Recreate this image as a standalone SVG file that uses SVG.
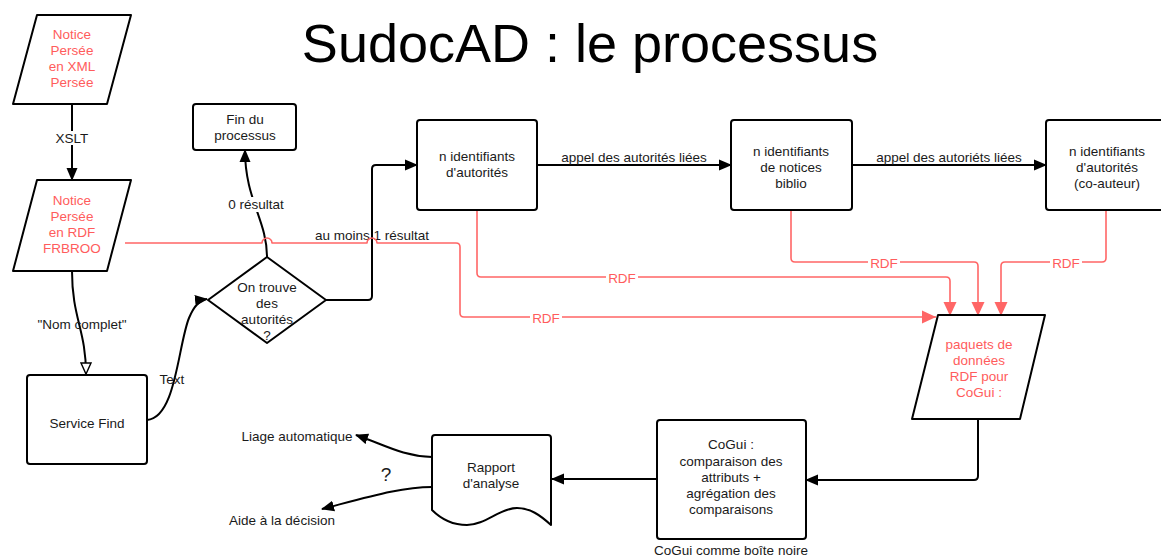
<svg xmlns="http://www.w3.org/2000/svg" width="1161" height="556" viewBox="0 0 1161 556">
<style>
text{font-family:"Liberation Sans",Arial,sans-serif;font-size:13.5px;fill:#1a1a1a;text-anchor:middle}
.red{fill:#ff5c5c}
.title{font-size:54px;fill:#000}
.shape{fill:#fff;stroke:#000;stroke-width:2;stroke-linejoin:round}
.blk{fill:none;stroke:#000;stroke-width:2}
.rl{fill:none;stroke:#ff6666;stroke-width:1.6;stroke-linejoin:round}
.lbl{fill:#fff}
</style>
<defs>
<marker id="ab" markerUnits="userSpaceOnUse" markerWidth="14" markerHeight="12" refX="12" refY="6" orient="auto"><path d="M0,0.5 L13,6 L0,11.5 Z" fill="#000"/></marker>
<marker id="ah" markerUnits="userSpaceOnUse" markerWidth="14" markerHeight="12" refX="12" refY="6" orient="auto"><path d="M1,1 L12,6 L1,11 Z" fill="#fff" stroke="#000" stroke-width="1.4"/></marker>
<marker id="ar" markerUnits="userSpaceOnUse" markerWidth="16" markerHeight="14" refX="14" refY="7" orient="auto"><path d="M0,0.5 L14,7 L0,13.5 Z" fill="#ff6666"/></marker>
</defs>
<rect width="1161" height="556" fill="#fff"/>
<text class="title" x="590" y="62">SudocAD : le processus</text>

<g id="connectors">
<line class="blk" x1="72" y1="104" x2="72" y2="180" marker-end="url(#ab)"/>
<rect class="lbl" x="52" y="131" width="40" height="14"/>
<text x="72" y="143">XSLT</text>
<path class="blk" d="M72,271 C72,318 86,330 86,374" marker-end="url(#ah)" stroke-width="1.6"/>
<text x="82" y="329">"Nom complet"</text>
<path class="blk" d="M147,420 C176,418 178,345 189,318 C194,306 199,300 207,299" marker-end="url(#ab)" stroke-width="1.6"/>
<text x="172" y="384">Text</text>
<path class="blk" d="M267,257 C267,220 245,200 245,150" marker-end="url(#ab)" stroke-width="1.6"/>
<rect class="lbl" x="226" y="197" width="60" height="15"/>
<text x="256" y="209">0 résultat</text>
<path class="blk" d="M326,300 H368 Q372,300 372,296 V169 Q372,165 376,165 H417" marker-end="url(#ab)"/>
<text x="372" y="240">au moins 1 résultat</text>
<line class="blk" x1="537" y1="165" x2="731" y2="165" marker-end="url(#ab)"/>
<text x="634" y="162">appel des autorités liées</text>
<line class="blk" x1="852" y1="165" x2="1046" y2="165" marker-end="url(#ab)"/>
<text x="949" y="162">appel des autoriéts liées</text>
<path class="blk" d="M978,419 V476 Q978,480 974,480 H806" marker-end="url(#ab)"/>
<line class="blk" x1="657" y1="479" x2="552" y2="479" marker-end="url(#ab)"/>
<path class="blk" d="M432,457 C402,456 385,445 356,435" marker-end="url(#ab)" stroke-width="1.6"/>
<path class="blk" d="M432,487 C402,487 372,496 322,509" marker-end="url(#ab)" stroke-width="1.6"/>
<text x="386" y="481" style="font-size:19px">?</text>

<path class="rl" d="M125,243 H262 A5,5 0 0 1 272,243 H367 A5,5 0 0 1 377,243 H456 Q460,243 460,247 V313 Q460,317 464,317 H936" marker-end="url(#ar)"/>
<rect class="lbl" x="530" y="311" width="32" height="14"/>
<text class="red" x="546" y="323">RDF</text>
<path class="rl" d="M477,210 V273 Q477,277 481,277 H946 Q950,277 950,281 V316" marker-end="url(#ar)"/>
<rect class="lbl" x="606" y="271" width="32" height="14"/>
<text class="red" x="622" y="283">RDF</text>
<path class="rl" d="M791,210 V258 Q791,262 795,262 H974 Q978,262 978,266 V316" marker-end="url(#ar)"/>
<rect class="lbl" x="868" y="256" width="32" height="14"/>
<text class="red" x="884" y="268">RDF</text>
<path class="rl" d="M1106,210 V258 Q1106,262 1102,262 H1005 Q1001,262 1001,266 V316" marker-end="url(#ar)"/>
<rect class="lbl" x="1050" y="256" width="32" height="14"/>
<text class="red" x="1066" y="268">RDF</text>
</g>

<g id="notice-xml">
<path class="shape" d="M37,15 H131 L107,104 H13 Z"/>
<text class="red" x="72" y="39">Notice</text>
<text class="red" x="72" y="55">Persée</text>
<text class="red" x="72" y="71">en XML</text>
<text class="red" x="72" y="87">Persée</text>
</g>
<g id="notice-rdf">
<path class="shape" d="M37,180 H131 L107,271 H13 Z"/>
<text class="red" x="72" y="205">Notice</text>
<text class="red" x="72" y="221">Persée</text>
<text class="red" x="72" y="237">en RDF</text>
<text class="red" x="72" y="253">FRBROO</text>
</g>
<g id="service-find">
<rect class="shape" x="27" y="375" width="120" height="89" rx="3"/>
<text x="87" y="428">Service Find</text>
</g>
<g id="decision">
<path class="shape" d="M208,300 L267,257 L326,300 L267,343 Z"/>
<text x="267" y="292">On trouve</text>
<text x="267" y="308">des</text>
<text x="267" y="324">autorités</text>
<text x="267" y="340">?</text>
</g>
<g id="fin">
<rect class="shape" x="193" y="104" width="103" height="46" rx="3"/>
<text x="245" y="124">Fin du</text>
<text x="245" y="140">processus</text>
</g>
<g id="id-autorites">
<rect class="shape" x="417" y="120" width="120" height="90" rx="3"/>
<text x="477" y="161">n identifiants</text>
<text x="477" y="177">d'autorités</text>
</g>
<g id="id-biblio">
<rect class="shape" x="731" y="120" width="121" height="90" rx="3"/>
<text x="791" y="156">n identifiants</text>
<text x="791" y="172">de notices</text>
<text x="791" y="188">biblio</text>
</g>
<g id="id-coauteur">
<rect class="shape" x="1046" y="120" width="125" height="90" rx="3"/>
<text x="1107" y="156">n identifiants</text>
<text x="1107" y="172">d'autorités</text>
<text x="1107" y="188">(co-auteur)</text>
</g>
<g id="paquets">
<path class="shape" d="M938,315 H1045 L1020,419 H912 Z"/>
<text class="red" x="979" y="349">paquets de</text>
<text class="red" x="979" y="365">données</text>
<text class="red" x="979" y="381">RDF pour</text>
<text class="red" x="979" y="397">CoGui :</text>
</g>
<g id="cogui">
<rect class="shape" x="657" y="420" width="149" height="119" rx="3"/>
<text x="731" y="449">CoGui :</text>
<text x="731" y="466">comparaison des</text>
<text x="731" y="482">attributs +</text>
<text x="731" y="498">agrégation des</text>
<text x="731" y="514">comparaisons</text>
<text x="731" y="555">CoGui comme boîte noire</text>
</g>
<g id="rapport">
<path class="shape" d="M435,435 H548 Q551,435 551,438 V525 C540,515 530,508 517,508 C500,508 485,525 467,525 C452,525 440,518 432,510 V438 Q432,435 435,435 Z"/>
<text x="491" y="472">Rapport</text>
<text x="491" y="488">d'analyse</text>
</g>
<g id="sorties">
<text x="297" y="441">Liage automatique</text>
<text x="282" y="525">Aide à la décision</text>
</g>
</svg>
